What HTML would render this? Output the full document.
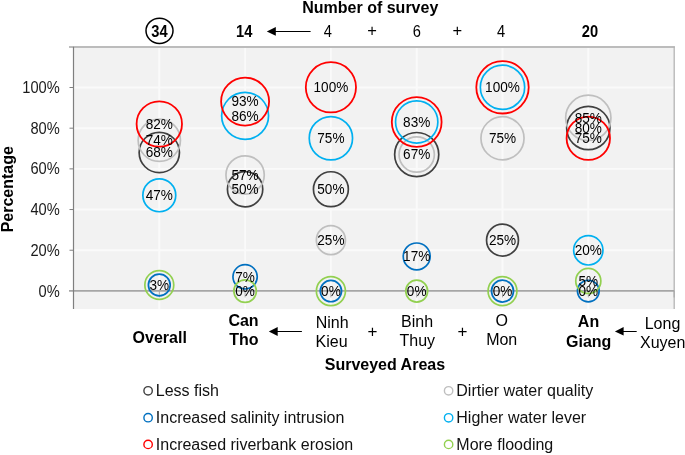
<!DOCTYPE html><html><head><meta charset="utf-8"><style>html,body{margin:0;padding:0;background:#fff;width:685px;height:455px;overflow:hidden}svg{display:block}text{font-family:"Liberation Sans",sans-serif;filter:grayscale(1)}</style></head><body>
<svg width="685" height="455" viewBox="0 0 685 455">
<rect x="73.5" y="46.8" width="600.7" height="262.3" fill="#f2f2f2"/>
<line x1="73.5" x2="674.2" y1="250.22" y2="250.22" stroke="#fafafa" stroke-width="1.9"/>
<line x1="73.5" x2="674.2" y1="209.54" y2="209.54" stroke="#fafafa" stroke-width="1.9"/>
<line x1="73.5" x2="674.2" y1="168.86" y2="168.86" stroke="#fafafa" stroke-width="1.9"/>
<line x1="73.5" x2="674.2" y1="128.18" y2="128.18" stroke="#fafafa" stroke-width="1.9"/>
<line x1="73.5" x2="674.2" y1="87.50" y2="87.50" stroke="#fafafa" stroke-width="1.9"/>
<line x1="159.30" x2="159.30" y1="46.8" y2="309.1" stroke="#fafafa" stroke-width="1.9"/>
<line x1="245.10" x2="245.10" y1="46.8" y2="309.1" stroke="#fafafa" stroke-width="1.9"/>
<line x1="330.90" x2="330.90" y1="46.8" y2="309.1" stroke="#fafafa" stroke-width="1.9"/>
<line x1="416.70" x2="416.70" y1="46.8" y2="309.1" stroke="#fafafa" stroke-width="1.9"/>
<line x1="502.50" x2="502.50" y1="46.8" y2="309.1" stroke="#fafafa" stroke-width="1.9"/>
<line x1="588.30" x2="588.30" y1="46.8" y2="309.1" stroke="#fafafa" stroke-width="1.9"/>
<line x1="69.0" x2="674.9000000000001" y1="47" y2="47" stroke="#bcbcbc" stroke-width="2"/>
<line x1="674.2" x2="674.2" y1="46.8" y2="309.1" stroke="#b4b4b4" stroke-width="1.3"/>
<line x1="69.0" x2="674.2" y1="290.9" y2="290.9" stroke="#a6a6a6" stroke-width="1.8"/>
<line x1="159.30" x2="159.30" y1="290.90" y2="297.40" stroke="#a6a6a6" stroke-width="1"/>
<line x1="245.10" x2="245.10" y1="290.90" y2="297.40" stroke="#a6a6a6" stroke-width="1"/>
<line x1="330.90" x2="330.90" y1="290.90" y2="297.40" stroke="#a6a6a6" stroke-width="1"/>
<line x1="416.70" x2="416.70" y1="290.90" y2="297.40" stroke="#a6a6a6" stroke-width="1"/>
<line x1="502.50" x2="502.50" y1="290.90" y2="297.40" stroke="#a6a6a6" stroke-width="1"/>
<line x1="588.30" x2="588.30" y1="290.90" y2="297.40" stroke="#a6a6a6" stroke-width="1"/>
<line x1="674.10" x2="674.10" y1="290.90" y2="297.40" stroke="#a6a6a6" stroke-width="1"/>
<line x1="69.5" x2="73.5" y1="250.22" y2="250.22" stroke="#808080" stroke-width="1"/>
<line x1="69.5" x2="73.5" y1="209.54" y2="209.54" stroke="#808080" stroke-width="1"/>
<line x1="69.5" x2="73.5" y1="168.86" y2="168.86" stroke="#808080" stroke-width="1"/>
<line x1="69.5" x2="73.5" y1="128.18" y2="128.18" stroke="#808080" stroke-width="1"/>
<line x1="69.5" x2="73.5" y1="87.50" y2="87.50" stroke="#808080" stroke-width="1"/>
<line x1="73.5" x2="73.5" y1="46.8" y2="309.1" stroke="#7f7f7f" stroke-width="1.2"/>
<text transform="translate(59.8,296.50) scale(1,1.08)" font-size="14.67" text-anchor="end" fill="#1a1a1a">0%</text>
<text transform="translate(59.8,255.82) scale(1,1.08)" font-size="14.67" text-anchor="end" fill="#1a1a1a">20%</text>
<text transform="translate(59.8,215.14) scale(1,1.08)" font-size="14.67" text-anchor="end" fill="#1a1a1a">40%</text>
<text transform="translate(59.8,174.46) scale(1,1.08)" font-size="14.67" text-anchor="end" fill="#1a1a1a">60%</text>
<text transform="translate(59.8,133.78) scale(1,1.08)" font-size="14.67" text-anchor="end" fill="#1a1a1a">80%</text>
<text transform="translate(59.8,93.10) scale(1,1.08)" font-size="14.67" text-anchor="end" fill="#1a1a1a">100%</text>
<circle cx="159.30" cy="152.52" r="20.15" fill="none" stroke="#404040" stroke-width="1.7"/>
<circle cx="245.10" cy="189.20" r="17.65" fill="none" stroke="#404040" stroke-width="1.7"/>
<circle cx="330.90" cy="189.20" r="17.45" fill="none" stroke="#404040" stroke-width="1.7"/>
<circle cx="416.70" cy="154.55" r="22.05" fill="none" stroke="#404040" stroke-width="1.7"/>
<circle cx="502.50" cy="240.15" r="15.95" fill="none" stroke="#404040" stroke-width="1.7"/>
<circle cx="588.30" cy="128.06" r="21.65" fill="none" stroke="#404040" stroke-width="1.7"/>
<circle cx="159.30" cy="140.29" r="21.15" fill="none" stroke="#bfbfbf" stroke-width="1.7"/>
<circle cx="245.10" cy="174.93" r="19.15" fill="none" stroke="#bfbfbf" stroke-width="1.7"/>
<circle cx="330.90" cy="240.15" r="14.55" fill="none" stroke="#bfbfbf" stroke-width="1.7"/>
<circle cx="416.70" cy="154.55" r="17.65" fill="none" stroke="#bfbfbf" stroke-width="1.7"/>
<circle cx="502.50" cy="138.25" r="21.55" fill="none" stroke="#bfbfbf" stroke-width="1.7"/>
<circle cx="588.30" cy="117.87" r="22.65" fill="none" stroke="#bfbfbf" stroke-width="1.7"/>
<circle cx="159.30" cy="284.99" r="10.90" fill="none" stroke="#0070c0" stroke-width="1.7"/>
<circle cx="245.10" cy="276.83" r="12.15" fill="none" stroke="#0070c0" stroke-width="1.7"/>
<circle cx="330.90" cy="291.10" r="10.65" fill="none" stroke="#0070c0" stroke-width="1.7"/>
<circle cx="416.70" cy="256.45" r="13.45" fill="none" stroke="#0070c0" stroke-width="1.7"/>
<circle cx="502.50" cy="291.10" r="11.00" fill="none" stroke="#0070c0" stroke-width="1.7"/>
<circle cx="588.30" cy="291.10" r="10.85" fill="none" stroke="#0070c0" stroke-width="1.7"/>
<circle cx="159.30" cy="195.31" r="16.45" fill="none" stroke="#00b0f0" stroke-width="1.7"/>
<circle cx="245.10" cy="115.83" r="23.45" fill="none" stroke="#00b0f0" stroke-width="1.7"/>
<circle cx="330.90" cy="138.25" r="21.65" fill="none" stroke="#00b0f0" stroke-width="1.7"/>
<circle cx="416.70" cy="121.95" r="21.15" fill="none" stroke="#00b0f0" stroke-width="1.7"/>
<circle cx="502.50" cy="87.30" r="22.15" fill="none" stroke="#00b0f0" stroke-width="1.7"/>
<circle cx="588.30" cy="250.34" r="14.65" fill="none" stroke="#00b0f0" stroke-width="1.7"/>
<circle cx="159.30" cy="123.98" r="22.70" fill="none" stroke="#ff0000" stroke-width="1.8"/>
<circle cx="245.10" cy="101.57" r="24.00" fill="none" stroke="#ff0000" stroke-width="1.8"/>
<circle cx="330.90" cy="87.30" r="25.10" fill="none" stroke="#ff0000" stroke-width="1.8"/>
<circle cx="416.70" cy="121.95" r="24.90" fill="none" stroke="#ff0000" stroke-width="1.8"/>
<circle cx="502.50" cy="87.30" r="26.20" fill="none" stroke="#ff0000" stroke-width="1.8"/>
<circle cx="588.30" cy="138.25" r="21.70" fill="none" stroke="#ff0000" stroke-width="1.8"/>
<circle cx="159.30" cy="284.99" r="14.45" fill="none" stroke="#92d050" stroke-width="1.7"/>
<circle cx="245.10" cy="291.10" r="11.25" fill="none" stroke="#92d050" stroke-width="1.7"/>
<circle cx="330.90" cy="291.10" r="14.55" fill="none" stroke="#92d050" stroke-width="1.7"/>
<circle cx="416.70" cy="291.10" r="10.95" fill="none" stroke="#92d050" stroke-width="1.7"/>
<circle cx="502.50" cy="291.10" r="14.45" fill="none" stroke="#92d050" stroke-width="1.7"/>
<circle cx="588.30" cy="280.91" r="12.55" fill="none" stroke="#92d050" stroke-width="1.7"/>
<text transform="translate(159.30,128.83) scale(1,1.1)" font-size="13.6" text-anchor="middle" fill="#000">82%</text>
<text transform="translate(159.30,145.14) scale(1,1.1)" font-size="13.6" text-anchor="middle" fill="#000">74%</text>
<text transform="translate(159.30,157.37) scale(1,1.1)" font-size="13.6" text-anchor="middle" fill="#000">68%</text>
<text transform="translate(159.30,200.16) scale(1,1.1)" font-size="13.6" text-anchor="middle" fill="#000">47%</text>
<text transform="translate(159.30,289.84) scale(1,1.1)" font-size="13.6" text-anchor="middle" fill="#000">3%</text>
<text transform="translate(245.10,106.42) scale(1,1.1)" font-size="13.6" text-anchor="middle" fill="#000">93%</text>
<text transform="translate(245.10,120.68) scale(1,1.1)" font-size="13.6" text-anchor="middle" fill="#000">86%</text>
<text transform="translate(245.10,179.78) scale(1,1.1)" font-size="13.6" text-anchor="middle" fill="#000">57%</text>
<text transform="translate(245.10,194.05) scale(1,1.1)" font-size="13.6" text-anchor="middle" fill="#000">50%</text>
<text transform="translate(245.10,281.68) scale(1,1.1)" font-size="13.6" text-anchor="middle" fill="#000">7%</text>
<text transform="translate(245.10,295.95) scale(1,1.1)" font-size="13.6" text-anchor="middle" fill="#000">0%</text>
<text transform="translate(330.90,92.15) scale(1,1.1)" font-size="13.6" text-anchor="middle" fill="#000">100%</text>
<text transform="translate(330.90,143.10) scale(1,1.1)" font-size="13.6" text-anchor="middle" fill="#000">75%</text>
<text transform="translate(330.90,194.05) scale(1,1.1)" font-size="13.6" text-anchor="middle" fill="#000">50%</text>
<text transform="translate(330.90,245.00) scale(1,1.1)" font-size="13.6" text-anchor="middle" fill="#000">25%</text>
<text transform="translate(330.90,295.95) scale(1,1.1)" font-size="13.6" text-anchor="middle" fill="#000">0%</text>
<text transform="translate(416.70,126.80) scale(1,1.1)" font-size="13.6" text-anchor="middle" fill="#000">83%</text>
<text transform="translate(416.70,159.40) scale(1,1.1)" font-size="13.6" text-anchor="middle" fill="#000">67%</text>
<text transform="translate(416.70,261.30) scale(1,1.1)" font-size="13.6" text-anchor="middle" fill="#000">17%</text>
<text transform="translate(416.70,295.95) scale(1,1.1)" font-size="13.6" text-anchor="middle" fill="#000">0%</text>
<text transform="translate(502.50,92.15) scale(1,1.1)" font-size="13.6" text-anchor="middle" fill="#000">100%</text>
<text transform="translate(502.50,143.10) scale(1,1.1)" font-size="13.6" text-anchor="middle" fill="#000">75%</text>
<text transform="translate(502.50,245.00) scale(1,1.1)" font-size="13.6" text-anchor="middle" fill="#000">25%</text>
<text transform="translate(502.50,295.95) scale(1,1.1)" font-size="13.6" text-anchor="middle" fill="#000">0%</text>
<text transform="translate(588.30,122.72) scale(1,1.1)" font-size="13.6" text-anchor="middle" fill="#000">85%</text>
<text transform="translate(588.30,132.91) scale(1,1.1)" font-size="13.6" text-anchor="middle" fill="#000">80%</text>
<text transform="translate(588.30,143.10) scale(1,1.1)" font-size="13.6" text-anchor="middle" fill="#000">75%</text>
<text transform="translate(588.30,255.19) scale(1,1.1)" font-size="13.6" text-anchor="middle" fill="#000">20%</text>
<text transform="translate(588.30,285.76) scale(1,1.1)" font-size="13.6" text-anchor="middle" fill="#000">5%</text>
<text transform="translate(588.30,295.95) scale(1,1.1)" font-size="13.6" text-anchor="middle" fill="#000">0%</text>
<text x="370.3" y="12.9" font-size="16" font-weight="bold" text-anchor="middle" fill="#000">Number of survey</text>
<ellipse cx="159.5" cy="30.8" rx="13.5" ry="12.6" fill="none" stroke="#000" stroke-width="1.5"/>
<text transform="translate(159.5,36.7) scale(1,1.07)" font-size="14.67" font-weight="bold" text-anchor="middle">34</text>
<text transform="translate(244.2,36.8) scale(1,1.07)" font-size="14.67" font-weight="bold" text-anchor="middle">14</text>
<line x1="274" x2="310.6" y1="31.5" y2="31.5" stroke="#000" stroke-width="1"/>
<path d="M266.8,31.4 L275.8,27.1 L275.8,35.7 Z" fill="#000"/>
<text transform="translate(327.9,36.8) scale(1,1.07)" font-size="14.67" text-anchor="middle">4</text>
<text x="372.1" y="35.8" font-size="16.5" text-anchor="middle">+</text>
<text transform="translate(416.8,36.8) scale(1,1.07)" font-size="14.67" text-anchor="middle">6</text>
<text x="457.3" y="35.8" font-size="16.5" text-anchor="middle">+</text>
<text transform="translate(501,36.8) scale(1,1.07)" font-size="14.67" text-anchor="middle">4</text>
<text transform="translate(590,36.8) scale(1,1.07)" font-size="14.67" font-weight="bold" text-anchor="middle">20</text>
<text x="159.7" y="342.8" font-size="16" font-weight="bold" text-anchor="middle">Overall</text>
<text x="243.5" y="325.8" font-size="16" font-weight="bold" text-anchor="middle">Can</text>
<text x="243.9" y="345" font-size="16" font-weight="bold" text-anchor="middle">Tho</text>
<line x1="277" x2="301.9" y1="331.5" y2="331.5" stroke="#000" stroke-width="1"/>
<path d="M268.8,331.5 L277.7,327 L277.7,336 Z" fill="#000"/>
<text x="332.2" y="327.7" font-size="16" text-anchor="middle">Ninh</text>
<text x="331.6" y="347.0" font-size="16" text-anchor="middle">Kieu</text>
<text x="372.5" y="337.1" font-size="17" text-anchor="middle">+</text>
<text x="417.1" y="327.2" font-size="16" text-anchor="middle">Binh</text>
<text x="417.3" y="346.0" font-size="16" text-anchor="middle">Thuy</text>
<text x="462.5" y="336.8" font-size="17" text-anchor="middle">+</text>
<text x="501.7" y="325.7" font-size="16" text-anchor="middle">O</text>
<text x="501.7" y="345.0" font-size="16" text-anchor="middle">Mon</text>
<text x="588.5" y="327.2" font-size="16" font-weight="bold" text-anchor="middle">An</text>
<text x="588.7" y="346.8" font-size="16" font-weight="bold" text-anchor="middle">Giang</text>
<line x1="622" x2="636.7" y1="331.5" y2="331.5" stroke="#000" stroke-width="1"/>
<path d="M614.9,331.4 L623.6,327.1 L623.6,335.6 Z" fill="#000"/>
<text x="662.5" y="328.6" font-size="16" text-anchor="middle">Long</text>
<text x="662.7" y="347.5" font-size="16" text-anchor="middle">Xuyen</text>
<text x="384.9" y="370.4" font-size="16" font-weight="bold" text-anchor="middle">Surveyed Areas</text>
<text transform="translate(12.6,189.2) rotate(-90)" font-size="16" font-weight="bold" text-anchor="middle">Percentage</text>
<circle cx="148.1" cy="390.8" r="4.2" fill="none" stroke="#404040" stroke-width="1.4"/>
<text x="155.8" y="396.0" font-size="16" fill="#111">Less fish</text>
<circle cx="148.1" cy="417.7" r="4.2" fill="none" stroke="#0070c0" stroke-width="1.4"/>
<text x="155.8" y="422.9" font-size="16" fill="#111">Increased salinity intrusion</text>
<circle cx="148.1" cy="444.4" r="4.2" fill="none" stroke="#ff0000" stroke-width="1.4"/>
<text x="155.8" y="449.6" font-size="16" fill="#111">Increased riverbank erosion</text>
<circle cx="448.6" cy="390.8" r="4.2" fill="none" stroke="#bfbfbf" stroke-width="1.4"/>
<text x="456.3" y="396.0" font-size="16" fill="#111">Dirtier water quality</text>
<circle cx="448.6" cy="417.8" r="4.2" fill="none" stroke="#00b0f0" stroke-width="1.4"/>
<text x="456.3" y="423.0" font-size="16" fill="#111">Higher water lever</text>
<circle cx="448.6" cy="444.4" r="4.2" fill="none" stroke="#92d050" stroke-width="1.4"/>
<text x="456.3" y="449.6" font-size="16" fill="#111">More flooding</text>
</svg></body></html>
